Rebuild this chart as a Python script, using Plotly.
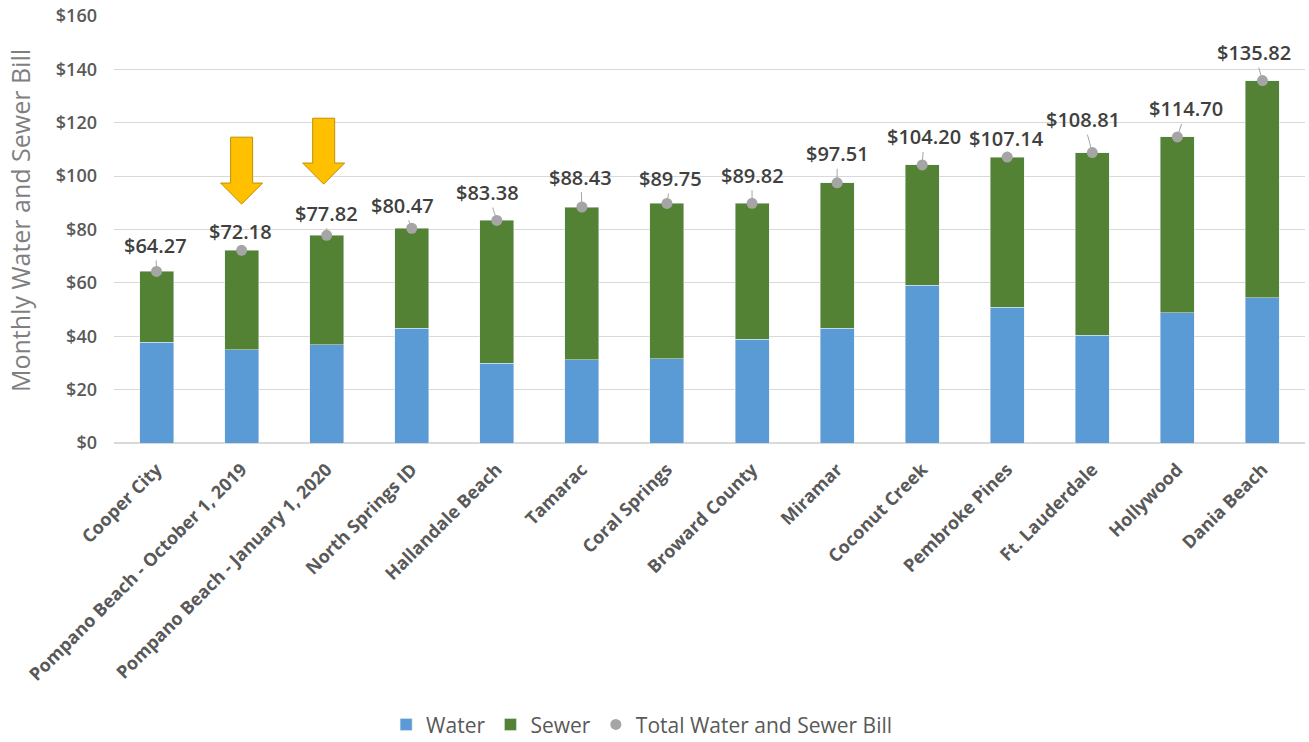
import plotly.graph_objects as go

categories = [
    "Cooper City", "Pompano Beach - October 1, 2019", "Pompano Beach - January 1, 2020",
    "North Springs ID", "Hallandale Beach", "Tamarac", "Coral Springs", "Broward County",
    "Miramar", "Coconut Creek", "Pembroke Pines", "Ft. Lauderdale", "Hollywood", "Dania Beach",
]
water = [37.7, 34.9, 36.9, 43.0, 29.8, 31.2, 31.5, 38.8, 43.0, 59.2, 50.9, 40.4, 48.8, 54.5]
sewer = [26.57, 37.28, 40.92, 37.47, 53.58, 57.23, 58.25, 51.02, 54.51, 45.00, 56.24, 68.41, 65.90, 81.32]
total = [64.27, 72.18, 77.82, 80.47, 83.38, 88.43, 89.75, 89.82, 97.51, 104.20, 107.14, 108.81, 114.70, 135.82]
y_ticks = [0, 20, 40, 60, 80, 100, 120, 140, 160]
y_tick_text = ["$0", "$20", "$40", "$60", "$80", "$100", "$120", "$140", "$160"]

# label offsets (pixels) for the data-label leader lines
label_dx = [-1, -1, 0, -9, -9, -1, 4, 0, 0, 2, -1, -9, 9, -8]
label_dy = [-26, -19, -22, -23, -28, -30, -25, -28, -29, -28, -19, -33, -28, -28]

GRAY_TXT = "#595959"
FONT = "Open Sans"

fig = go.Figure()
fig.add_trace(go.Bar(x=categories, y=water, name="Water", marker_color="#5B9BD5"))
fig.add_trace(go.Bar(x=categories, y=sewer, name="Sewer", marker_color="#548235"))
fig.add_trace(go.Scatter(x=categories, y=total, name="Total Water and Sewer Bill", mode="markers",
                         marker=dict(color="#A5A5A5", size=11)))

for c, t, dx, dy in zip(categories, total, label_dx, label_dy):
    fig.add_annotation(x=c, y=t, text=f"${t:.2f}", showarrow=True, arrowhead=0,
                       arrowwidth=1, arrowcolor="#A5A5A5", ax=dx, ay=dy,
                       font=dict(family=FONT, size=20, color="#404040", weight=600))

# y-axis title
fig.add_annotation(xref="paper", yref="paper", x=-0.079, y=0.522, xanchor="center", yanchor="middle",
                   text="Monthly Water and Sewer Bill", textangle=-90, showarrow=False,
                   font=dict(family=FONT, size=25, color="#7F7F7F"))

# orange highlight arrows above the two Pompano Beach bars
arrow_specs = [(categories[1], 0, 114.6, 97.4, 89.5), (categories[2], -3, 121.7, 104.9, 97.0)]
for cat, off, top, neck, tip in arrow_specs:
    path = (f"M {off-11},{top} L {off+11},{top} L {off+11},{neck} L {off+21},{neck} "
            f"L {off},{tip} L {off-21},{neck} L {off-11},{neck} Z")
    fig.add_shape(type="path", xref="x", yref="y", xsizemode="pixel", xanchor=cat,
                  path=path, fillcolor="#FFC000", line=dict(color="#C09000", width=1), layer="above")

fig.update_layout(
    width=1309, height=742,
    barmode="stack", bargap=0.6,
    plot_bgcolor="white", paper_bgcolor="white",
    margin=dict(l=114, r=4, t=16, b=299, autoexpand=False),
    font=dict(family=FONT, color=GRAY_TXT),
    showlegend=True,
    legend=dict(orientation="h", x=0.443, xanchor="center", y=-0.66, yanchor="middle",
                font=dict(family=FONT, size=21, color=GRAY_TXT), traceorder="normal",
                itemwidth=30),
)
fig.update_yaxes(range=[0, 160], tickvals=y_ticks, ticktext=y_tick_text, showgrid=True,
                 gridcolor="#D9D9D9", gridwidth=1, zeroline=True, zerolinecolor="#D9D9D9",
                 tickfont=dict(family=FONT, size=18, color=GRAY_TXT, weight=600),
                 ticklabelstandoff=16, automargin=False)
fig.update_xaxes(range=[-0.5, len(categories) - 0.5], autorange=False,
                 tickangle=-45, showgrid=False, showline=False, automargin=False,
                 ticks="outside", ticklen=8, tickcolor="rgba(0,0,0,0)",
                 tickfont=dict(family=FONT, size=18, color=GRAY_TXT, weight=700))

fig.write_html("out.html", config={"displayModeBar": False},
               post_script="document.body.style.margin='0';")
